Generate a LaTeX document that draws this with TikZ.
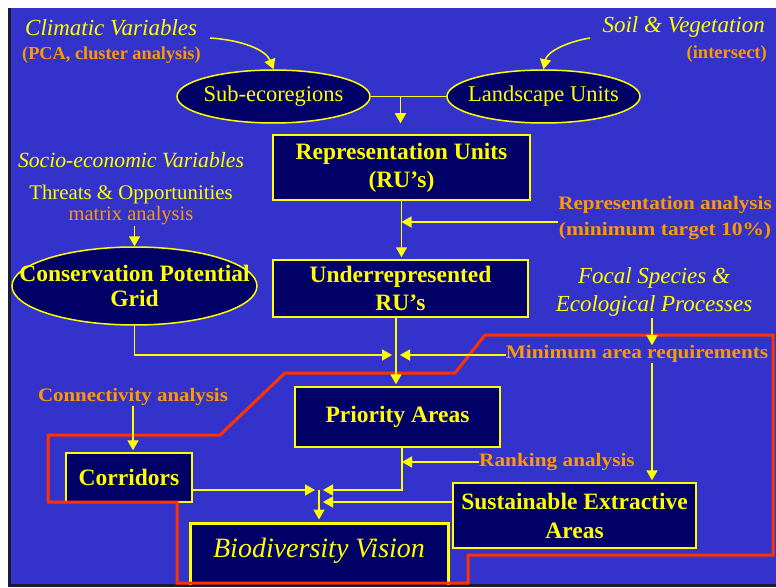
\documentclass[tikz,border=0pt]{standalone}
\usepackage{fontspec}
\usepackage{graphicx}
\setmainfont{Liberation Serif}
\usetikzlibrary{arrows.meta,shapes.geometric}
\definecolor{bgblue}{HTML}{3333CC}
\definecolor{navy}{HTML}{000066}
\definecolor{yel}{HTML}{FFFF00}
\definecolor{orng}{HTML}{FF9900}
\definecolor{redl}{HTML}{FF3300}
\definecolor{edgec}{HTML}{1A1A33}
\newcommand{\wide}[2]{\scalebox{#1}[1]{#2}}
\begin{document}
\begin{tikzpicture}[x=1pt,y=-1pt,
  conn/.style={draw=yel,line width=1.5pt},
  tip/.style={-{Triangle[length=10pt,width=11pt]}},
  box/.style={draw=yel,fill=navy,line width=1.5pt,text=yel,align=center,inner sep=0pt,
    font=\bfseries\fontsize{23.5}{28}\selectfont},
  oval/.style={ellipse,draw=yel,fill=navy,line width=1.5pt,text=yel,align=center,inner ysep=0pt},
  itl/.style={text=yel,font=\itshape\fontsize{23}{28}\selectfont,inner sep=0pt,align=center},
  org/.style={text=orng,font=\bfseries\fontsize{19}{26}\selectfont,inner sep=0pt,align=center},
  redline/.style={draw=redl,line width=3pt,line join=miter},
]
\useasboundingbox (0,0) rectangle (776,588);
\fill[white] (0,0) rectangle (776,588);
\fill[edgec] (8,8) rectangle (776,587);
\fill[bgblue] (11,8) rectangle (776,584);
\begin{scope}
\clip (11,8) rectangle (776,584);

% ---------- nodes ----------
\node[oval,inner xsep=-27pt,minimum width=193pt,minimum height=53pt,font=\fontsize{22.5}{24}\selectfont] (sub) at (273.5,96.5) {Sub-ecoregions};
\node[oval,inner xsep=-30pt,minimum width=193pt,minimum height=53pt,font=\fontsize{22.5}{24}\selectfont] (land) at (543.5,96.5) {Landscape Units};
\node[box,minimum width=257pt,minimum height=65pt] (ru) at (401.5,167.5) {Representation Units\\(RU’s)};
\node[box,minimum width=255pt,minimum height=57pt] (under) at (400.5,288.5) {Underrepresented\\RU’s};
\node[oval,inner xsep=-40pt,minimum width=245pt,minimum height=78pt,font=\bfseries\fontsize{23.5}{25}\selectfont] (cpg) at (134.5,286) {Conservation Potential\\Grid};
\node[box,minimum width=205pt,minimum height=60pt] (prio) at (397.5,417) {Priority Areas};
\node[box,minimum width=126pt,minimum height=49pt] (corr) at (129,477.5) {Corridors};
\node[box,minimum width=243pt,minimum height=65pt,font=\bfseries\fontsize{23.5}{29}\selectfont] (sust) at (574.5,515.5) {Sustainable Extractive\\Areas};
\node[box,line width=3pt,minimum width=258pt,minimum height=76pt,text height=20pt,text depth=28pt,
  font=\itshape\fontsize{28}{30}\selectfont] (bio) at (319,561) {Biodiversity Vision};

\node[itl,anchor=west] (clim) at (25,28) {Climatic Variables};
\node[org,anchor=west,font=\bfseries\fontsize{18.3}{22}\selectfont] (pca) at (22,55) {(PCA, cluster analysis)};
\node[itl,anchor=east] (soil) at (765,27) {Soil \& Vegetation};
\node[org,anchor=east,font=\bfseries\fontsize{18.5}{22}\selectfont] (inter) at (767,54) {(intersect)};
\node[itl,font=\itshape\fontsize{21.7}{24}\selectfont] (socio) at (131,160) {Socio-economic Variables};
\node[text=yel,inner sep=0pt,font=\fontsize{20.8}{24}\selectfont] (threat) at (131,194) {Threats \& Opportunities};
\node[org,font=\fontsize{20.5}{24}\selectfont] (matrix) at (131,216) {matrix analysis};
\node[org] (repan) at (665,218) {\wide{1.11}{Representation analysis}\\\wide{1.13}{(minimum target 10\%)}};
\node[itl] (focal) at (654,292) {Focal Species \&\\Ecological Processes};
\node[org] (minarea) at (637,354) {\wide{1.12}{Minimum area requirements}};
\node[org] (connan) at (133,397) {\wide{1.1}{Connectivity analysis}};
\node[org] (rank) at (557,462) {\wide{1.12}{Ranking analysis}};

% ---------- coordinates ----------
\coordinate (climEnd) at (210,38);
\coordinate (soilEnd) at (590,38);
\coordinate (j1) at (400.5,96.5);
\coordinate (j2) at (396,355);
\coordinate (j3) at (319,490);
\coordinate (j4) at (319,502);
\coordinate (pv) at (402,447);
\coordinate (fa) at (652,318);

% ---------- red outline ----------
\draw[redline] (48,435) -- (220,435) -- (285,373) -- (455,373) -- (485,335) -- (773,335)
  -- (773,555) -- (468,555) -- (468,583) -- (177,583) -- (177,502) -- (48,502) -- cycle;

% ---------- connectors ----------
\draw[conn,tip] (climEnd) .. controls (242,40) and (266,50) .. (sub.north);
\draw[conn,tip] (soilEnd) .. controls (566,42) and (547,52) .. (land.north);
\draw[conn] (sub.east) -- (land.west);
\draw[conn,tip,shorten >=11pt] (j1) -- (j1 |- ru.north);
\draw[conn,tip,shorten >=2pt] (ru.south) -- (ru.south |- under.north);
\draw[conn,tip] ([yshift=-4pt]repan.west) -- ([yshift=-4pt]repan.west -| ru.south);
\draw[conn,tip] (cpg.south) |- ([xshift=-4pt]j2);
\draw[conn,tip] (minarea.west |- j2) -- ([xshift=4pt]j2);
\draw[conn,tip,shorten >=2pt] (j2 |- under.south) -- (j2 |- prio.north);
\draw[conn,tip] (fa) -- (fa |- minarea.north);
\draw[conn,tip,shorten >=2pt] (fa |- minarea.south) -- (fa |- sust.north);
\draw[conn,tip] (matrix.south -| cpg.north) -- (cpg.north);
\draw[conn,tip,shorten >=2pt] (connan.south) -- (connan.south |- corr.north);
\draw[conn,tip] (pv) |- ([xshift=4pt]j3);
\draw[conn,tip] (rank.west) -- (rank.west -| pv);
\draw[conn,tip] (corr.east |- j3) -- ([xshift=-4pt]j3);
\draw[conn,tip] (sust.west |- j4) -- ([xshift=4pt]j4);
\draw[conn,tip,shorten >=2pt] (j3) -- (j3 |- bio.north);
\end{scope}
\end{tikzpicture}
\end{document}
